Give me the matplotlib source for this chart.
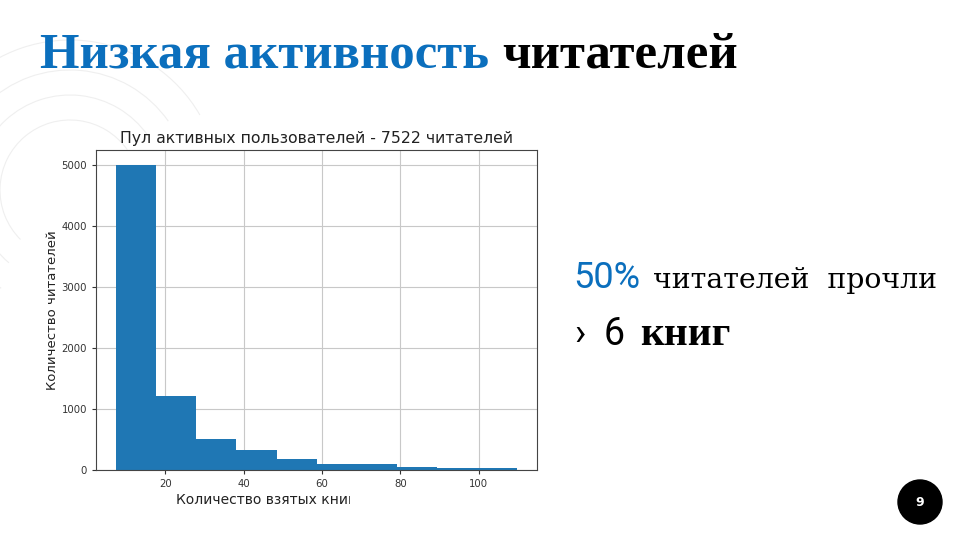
import matplotlib
matplotlib.use("Agg")
import matplotlib.pyplot as plt
from matplotlib.patches import Arc, Circle
from matplotlib.transforms import Bbox, TransformedBbox

# histogram data
bin_edges = [7.4, 17.6, 27.9, 38.1, 48.4, 58.6, 68.8, 79.1, 89.3, 99.6, 109.8]
counts = [5000, 1210, 505, 330, 180, 95, 95, 45, 32, 25]
y_ticks = [0, 1000, 2000, 3000, 4000, 5000]
x_ticks = [20, 40, 60, 80, 100]

chart_title = "Пул активных пользователей - 7522 читателей"
x_label = "Количество взятых книг"
y_label = "Количество читателей"

BLUE = "#0b6fbd"

fig = plt.figure(figsize=(9.6, 5.4), dpi=100)
fig.patch.set_facecolor("white")
renderer = fig.canvas.get_renderer()


def put(x, y, s, width=None, **kw):
    # text at pixel position (x, baseline y); optionally scaled to a pixel width
    t = fig.text(x / 960, 1 - y / 540, s, **kw)
    if width:
        w = t.get_window_extent(renderer).width
        t.set_fontsize(t.get_fontsize() * width / w)
    return t


def right_of(t):
    return t.get_window_extent(renderer).x1


# background layer in pixel coords
bg = fig.add_axes([0, 0, 1, 1])
bg.set_xlim(0, 960)
bg.set_ylim(540, 0)
bg.axis("off")
for r, p1, p2 in [(70, 35, 225), (95, 35, 230), (120, 35, 235), (150, 30, 240)]:
    bg.add_patch(Arc((70, 190), 2 * r, 2 * r, theta1=360 - p2, theta2=360 - p1,
                     color="#efefef", lw=0.8))

# slide title
t1 = put(40, 68, "Низкая активность ", color=BLUE, fontsize=36.5, fontweight="bold",
         family="Liberation Serif")
put(right_of(t1), 68, "читателей", color="black", fontsize=36.5, fontweight="bold",
    family="Liberation Serif")

# histogram
ax = fig.add_axes([96 / 960, 1 - 470 / 540, 441 / 960, 320 / 540])
ax.hist(bin_edges[:-1], bins=bin_edges, weights=counts, color="#1f77b4", zorder=2)
ax.set_yticks(y_ticks)
ax.set_xticks(x_ticks)
ax.grid(True, color="#c8c8c8", lw=0.8, zorder=0)
ax.set_axisbelow(True)
ax.tick_params(labelsize=7.3, colors="#333333", length=3)
for s in ax.spines.values():
    s.set_color("#444444")
ax.set_title(chart_title, fontsize=11.3, color="#222222", pad=5)
ax.set_ylabel(y_label, fontsize=9.5, color="#222222", labelpad=2)

xl = put(176, 504, x_label, fontsize=10, color="#222222")
xl.set_clip_box(TransformedBbox(Bbox([[0, 0], [350 / 960, 1]]), fig.transFigure))
xl.set_clip_on(True)

# right-hand text
put(573, 288, "50%", color=BLUE, fontsize=26, family="Roboto")
put(653, 288, "читателей  прочли", width=284, color="black", fontsize=20,
    family="DejaVu Serif")
put(574, 345, "›", color="black", fontsize=27, family="Roboto")
put(604, 345, "6", color="black", fontsize=27, family="Roboto")
put(640, 345, "книг", width=90, color="black", fontsize=28, fontweight="bold",
    family="Liberation Serif")

# page number
bg.add_patch(Circle((920, 502), 22, color="black"))
bg.text(920, 502, "9", color="white", fontsize=9, fontweight="bold",
        ha="center", va="center")

fig.savefig("out.png", dpi=100)
